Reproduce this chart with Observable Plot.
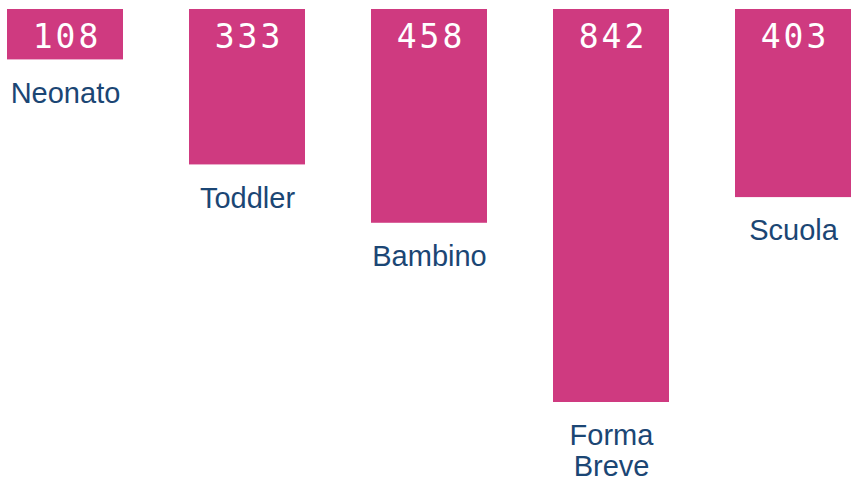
<!DOCTYPE html>
<html>
<head>
<meta charset="utf-8">
<script src="https://cdn.jsdelivr.net/npm/d3@7"></script>
<script src="https://cdn.jsdelivr.net/npm/@observablehq/plot@0.6"></script>
<style>
  html, body { margin: 0; padding: 0; background: #fff; }
  #chart { width: 851px; height: 479px; overflow: hidden; }
  .vals text { letter-spacing: 3px; }
</style>
</head>
<body>
<div id="chart"></div>
<script>
const categories = ["Neonato", "Toddler", "Bambino", "Forma Breve", "Scuola"];
const values = [108, 333, 458, 842, 403];

const data = categories.map((c, i) => ({category: c, value: values[i]}));

const barColor = "#CF3A80";
const labelColor = "#1B4674";

const chart = Plot.plot({
  width: 851,
  height: 479,
  margin: 0,
  style: {background: "#fff", overflow: "visible"},
  x: {domain: categories, range: [-26, 884], paddingInner: 0.36, paddingOuter: 0.18, axis: null},
  y: {domain: [0, 842], range: [9, 402], axis: null},
  marks: [
    Plot.barY(data, {x: "category", y: "value", fill: barColor}),
    Plot.text(data, {
      x: "category", y: () => 0, text: d => String(d.value),
      fill: "#fff", fontSize: 33, fontFamily: "DejaVu Sans Mono",
      lineAnchor: "middle", dy: 28, dx: 1.5, textAnchor: "middle",
      className: "vals"
    }),
    Plot.text(data, {
      x: "category", y: "value", text: d => d.category.replace(" ", "\n"),
      fill: labelColor, fontSize: 29, fontFamily: "Liberation Sans",
      lineAnchor: "top", lineHeight: 1.05, dy: 21, textAnchor: "middle"
    })
  ]
});
document.getElementById("chart").appendChild(chart);
</script>
</body>
</html>
